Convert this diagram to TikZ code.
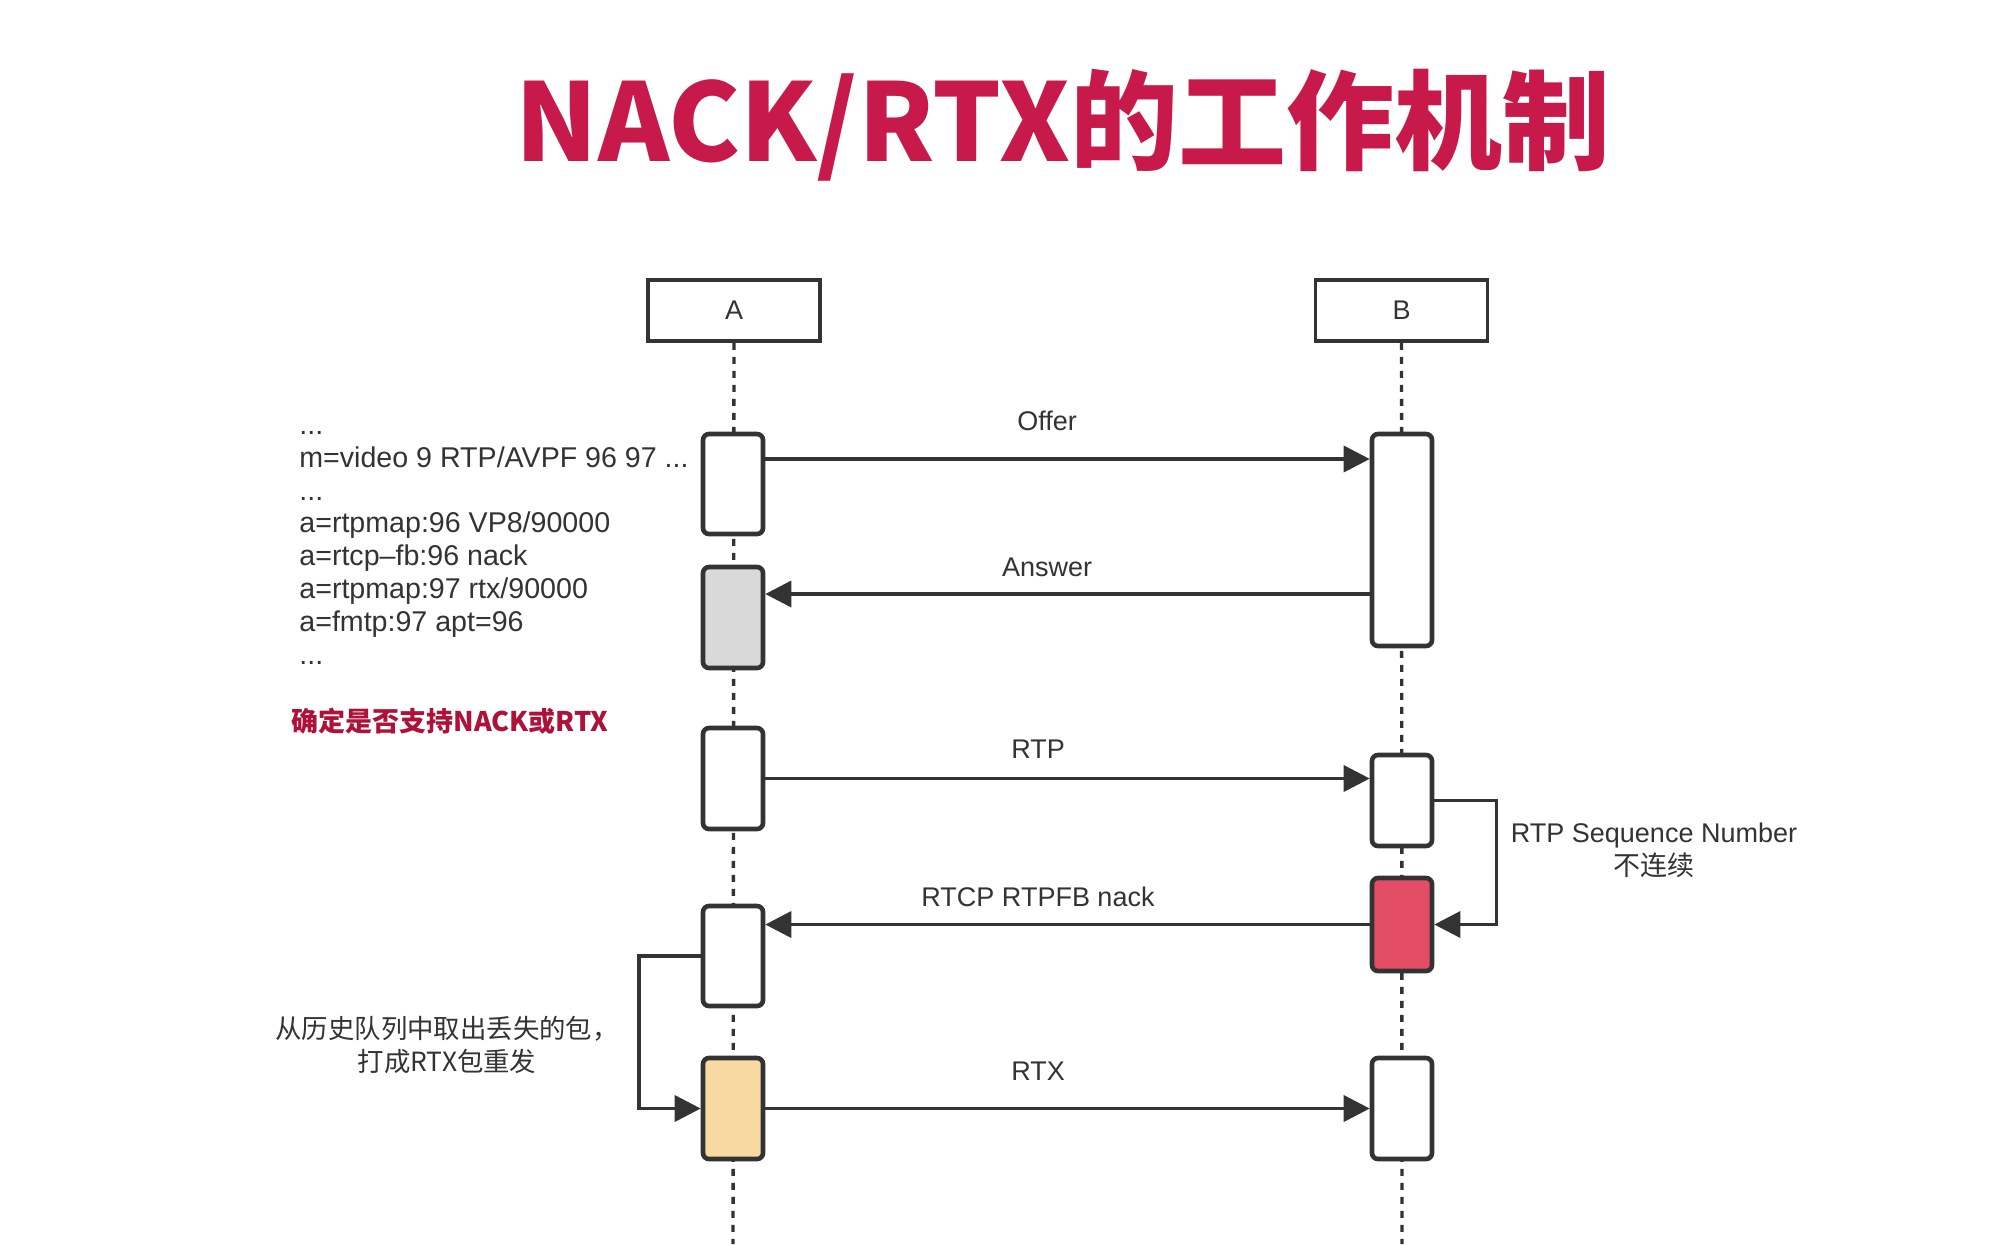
\documentclass[tikz,border=0pt]{standalone}
\usepackage{fontspec}
\setmainfont{Liberation Sans}
\newfontfamily\cjk{Noto Sans CJK SC}
\usepackage{tikz}
\usetikzlibrary{arrows.meta}
\definecolor{ink}{HTML}{333333}
\definecolor{titlered}{HTML}{C71A4A}
\definecolor{notered}{HTML}{AE1238}
\definecolor{answergray}{HTML}{D9D9D9}
\definecolor{nackred}{HTML}{E34E66}
\definecolor{rtxpeach}{HTML}{F9D9A2}

\begin{document}
\begin{tikzpicture}[
    x=0.5pt, y=-0.5pt,
    party/.style={draw=ink, line width=1.8pt, minimum width=86pt, minimum height=30.5pt, font=\fontsize{13.5}{15}\selectfont, text=ink},
    act/.style={draw=ink, line width=2.3pt, fill=white, rounded corners=3pt, minimum width=30pt, inner sep=0pt},
    life/.style={draw=ink, line width=1.7pt, dash pattern=on 3.5pt off 3.5pt},
    arr/.style={-{Triangle[length=13pt,width=13pt]}, line width=1.8pt, draw=ink},
    lbl/.style={font=\fontsize{13.5}{16.4}\selectfont, text=ink, inner sep=0pt}
]
    \fill[white] (0,0) rectangle (1990,1244);
    \useasboundingbox (0,0) rectangle (1990,1244);

    \node[font=\cjk\bfseries\fontsize{54}{60}\selectfont, text=titlered, anchor=base] (title) at (1063,161) {NACK/RTX的工作机制};

    % parties and lifelines
    \node[party] (pa) at (734,310.5) {A};
    \node[party] (pb) at (1401.5,310.5) {B};
    \coordinate (endA) at (733,1244);
    \coordinate (endB) at (1402,1244);
    \draw[life] (pa.south) -- (endA);
    \draw[life] (pb.south) -- (endB);

    % activations on A
    \node[act, minimum height=50pt] (a1) at (733,484) {};
    \node[act, minimum height=50.5pt, fill=answergray] (a2) at (733,617.5) {};
    \node[act, minimum height=50.5pt] (a3) at (733,778.5) {};
    \node[act, minimum height=50pt] (a4) at (733,956) {};
    \node[act, minimum height=50.5pt, fill=rtxpeach] (a5) at (733,1108.5) {};

    % activations on B
    \node[act, minimum height=106pt] (b1) at (1402,540) {};
    \node[act, minimum height=45.5pt] (b2) at (1402,800.5) {};
    \node[act, minimum height=46.5pt, fill=nackred] (b3) at (1402,924.5) {};
    \node[act, minimum height=50.5pt] (b4) at (1402,1108.5) {};

    % messages
    \draw[arr] ([yshift=12.5pt]a1.east) coordinate (offer) -- (offer -| b1.west);
    \path ([yshift=11.75pt]a2.east) coordinate (answer);
    \draw[arr] (answer -| b1.west) -- (answer);
    \draw[arr] (a3.east) -- (a3.east -| b2.west);
    \draw[arr] (b3.west) -- (b3.west -| a4.east);
    \draw[arr] (a5.east) -- (b4.west);
    \draw[arr] (b2.east) -- ++(31pt,0) |- (b3.east);
    \draw[arr] (a4.west) -- ++(-31pt,0) |- (a5.west);

    \node[lbl] (offerlbl) at (1047,421) {Offer};
    \node[lbl] (answerlbl) at (1047,567) {Answer};
    \node[lbl] (rtplbl) at (1038,749) {RTP};
    \node[lbl] (nacklbl) at (1038,897) {RTCP RTPFB nack};
    \node[lbl] (rtxlbl) at (1038,1071) {RTX};

    % notes
    \node[lbl, align=left, anchor=north west, font=\fontsize{14.3}{16.4}\selectfont] (sdp) at (299,431) {...\\m=video 9 RTP/AVPF 96 97 ...\\...\\a=rtpmap:96 VP8/90000\\a=rtcp–fb:96 nack\\a=rtpmap:97 rtx/90000\\a=fmtp:97 apt=96\\...};
    \node[font=\cjk\bfseries\fontsize{13.5}{16}\selectfont, text=notered, inner sep=0pt] (support) at (450,721) {确定是否支持NACK或RTX};
    \node[lbl, align=center] (gaplbl) at (1654,850) {RTP Sequence Number\\{\cjk 不连续}};
    \node[lbl, align=center, font=\cjk\fontsize{13.2}{16.4}\selectfont] (resendlbl) at (447,1045) {从历史队列中取出丢失的包，\\打成RTX包重发};
\end{tikzpicture}
\end{document}
